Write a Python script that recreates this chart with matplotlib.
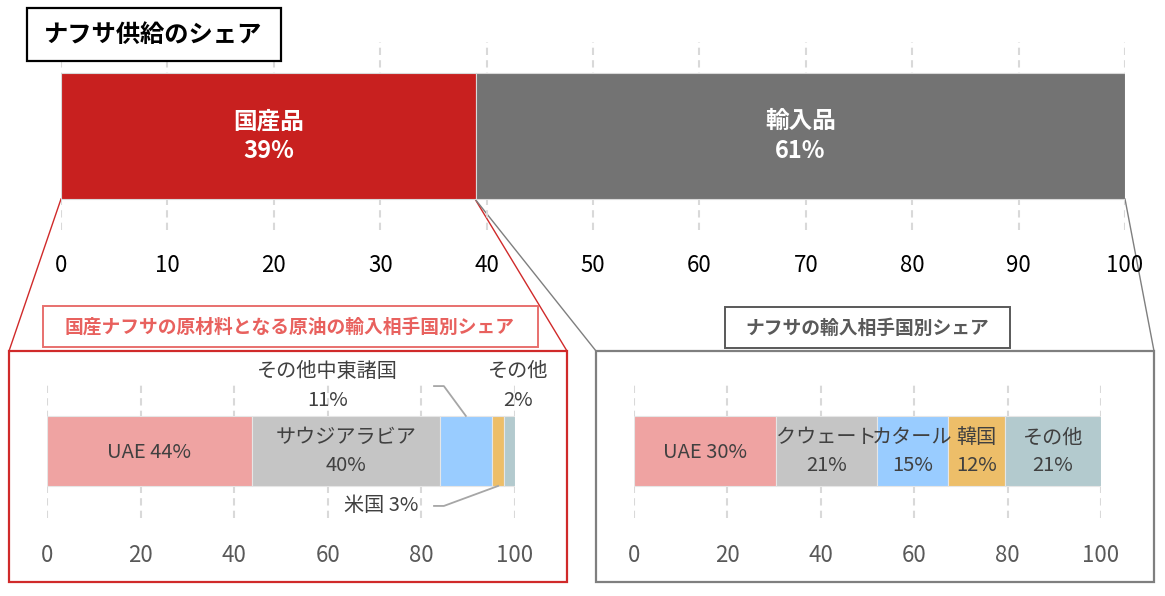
import matplotlib.pyplot as plt
from matplotlib.patches import Rectangle

plt.rcParams['font.family'] = ['Noto Sans CJK JP', 'DejaVu Sans']

# top: domestic vs imported naphtha
supply_labels = ['国産品', '輸入品']
supply_share = [39, 61]
supply_colors = ['#C8201F', '#737373']

# crude oil imports for domestic naphtha
crude_labels = ['UAE', 'サウジアラビア', 'その他中東諸国', '米国', 'その他']
crude_share = [43.8, 40.1, 11.2, 2.5, 2.4]
crude_pct = [44, 40, 11, 3, 2]

# naphtha imports
naphtha_labels = ['UAE', 'クウェート', 'カタール', '韓国', 'その他']
naphtha_share = [30.4, 21.6, 15.2, 12.2, 20.6]
naphtha_pct = [30, 21, 15, 12, 21]

seg_colors = ['#EFA3A2', '#C5C5C5', '#99CCFF', '#EDBE69', '#B3CACE']

W, H = 1165, 596
fig = plt.figure(figsize=(W / 100, H / 100), dpi=100)


def px_axes(x0, y0, x1, y1, z=1):
    return fig.add_axes([x0 / W, 1 - y1 / H, (x1 - x0) / W, (y1 - y0) / H], zorder=z)


def overlay(z):
    a = fig.add_axes([0, 0, 1, 1], zorder=z)
    a.set_xlim(0, W)
    a.set_ylim(H, 0)
    a.axis('off')
    return a


# frames and connectors underneath, title boxes on top
ov = overlay(0)
top = overlay(5)

red = '#D02A2A'
grey = '#7F7F7F'
ov.plot([61, 9], [199, 351], color=red, lw=1)
ov.plot([475, 567], [199, 351], color=red, lw=1)
ov.plot([475, 596], [199, 351], color=grey, lw=1)
ov.plot([1125, 1154], [199, 351], color=grey, lw=1)
ov.add_patch(Rectangle((9, 351), 558, 231, fill=False, ec=red, lw=1.6))
ov.add_patch(Rectangle((596, 351), 558, 231, fill=False, ec=grey, lw=1.6))

top.add_patch(Rectangle((27, 8), 254, 53, fc='white', ec='black', lw=1.6))
top.text(153, 35, 'ナフサ供給のシェア', ha='center', va='center', fontsize=17.5, fontweight='bold')
top.add_patch(Rectangle((43, 306), 495, 41, fc='white', ec='#E8706E', lw=1.4))
top.text(290, 327, '国産ナフサの原材料となる原油の輸入相手国別シェア', ha='center', va='center',
         fontsize=13.5, fontweight='bold', color='#E8615E')
top.add_patch(Rectangle((725, 307), 285, 41, fc='white', ec='#595959', lw=1.4))
top.text(867, 328, 'ナフサの輸入相手国別シェア', ha='center', va='center',
         fontsize=13.5, fontweight='bold', color='#595959')


def setup(ax, ticks, pad):
    ax.set_xlim(0, 100)
    ax.set_ylim(0, 1)
    for s in ax.spines.values():
        s.set_visible(False)
    ax.set_yticks([])
    ax.set_xticks(ticks)
    ax.tick_params(axis='x', length=0, pad=pad)
    ax.set_facecolor('none')
    for t in ticks:
        ax.axvline(t, color='#D9D9D9', lw=1.5, ls=(0, (3.5, 2.5)), zorder=0)


# top chart
ax = px_axes(61, 42, 1125, 230, z=2)
setup(ax, range(0, 101, 10), 17)
ax.tick_params(axis='x', labelsize=16, labelcolor='black')
left = 0
for lab, v, c in zip(supply_labels, supply_share, supply_colors):
    ax.barh(0.5, v, left=left, height=0.67, color=c, edgecolor='#D9D9D9', lw=0.8, zorder=2)
    ax.text(left + v / 2, 0.5, f'{lab}\n{v}%', ha='center', va='center', color='white',
            fontsize=17, fontweight='bold', linespacing=1.3, zorder=3)
    left += v

# bottom-left chart
ax = px_axes(47, 381, 515, 518, z=2)
setup(ax, range(0, 101, 20), 19)
ax.tick_params(axis='x', labelsize=16, labelcolor='#595959')
fs = 14.5
left = 0
for i, (lab, v, p) in enumerate(zip(crude_labels, crude_share, crude_pct)):
    ax.barh(0.49, v, left=left, height=0.51, color=seg_colors[i], edgecolor='#E6E6E6', lw=0.8, zorder=2)
    mid = left + v / 2
    if i == 0:
        ax.text(mid, 0.48, f'{lab} {p}%', ha='center', va='center', fontsize=fs, color='#404040', zorder=3)
    elif i == 1:
        ax.text(mid, 0.59, lab, ha='center', va='center', fontsize=fs, color='#404040', zorder=3)
        ax.text(mid, 0.385, f'{p}%', ha='center', va='center', fontsize=fs, color='#404040', zorder=3)
    left += v

tx = [60.0, 100.7]
for lab, p, x in zip([crude_labels[2], crude_labels[4]], [crude_pct[2], crude_pct[4]], tx):
    ax.text(x, 1.07, lab, ha='center', va='center', fontsize=fs, color='#404040', clip_on=False)
    ax.text(x, 0.86, f'{p}%', ha='center', va='center', fontsize=fs, color='#404040', clip_on=False)
ax.text(71.4, 0.09, f'{crude_labels[3]} {crude_pct[3]}%', ha='center', va='center', fontsize=fs,
        color='#404040', clip_on=False)
ax.plot([82.7, 84.8, 89.5], [0.963, 0.963, 0.745], color='#A6A6A6', lw=1.3, clip_on=False, zorder=3)
ax.plot([82.7, 84.8, 96.4], [0.088, 0.088, 0.234], color='#A6A6A6', lw=1.3, clip_on=False, zorder=3)

# bottom-right chart
ax = px_axes(634, 381, 1101, 518, z=2)
setup(ax, range(0, 101, 20), 19)
ax.tick_params(axis='x', labelsize=16, labelcolor='#595959')
left = 0
for i, (lab, v, p) in enumerate(zip(naphtha_labels, naphtha_share, naphtha_pct)):
    ax.barh(0.49, v, left=left, height=0.51, color=seg_colors[i], edgecolor='#E6E6E6', lw=0.8, zorder=2)
    mid = left + v / 2
    if i == 0:
        ax.text(mid, 0.48, f'{lab} {p}%', ha='center', va='center', fontsize=fs, color='#404040', zorder=3)
    else:
        ax.text(mid, 0.585, lab, ha='center', va='center', fontsize=fs, color='#404040', zorder=3)
        ax.text(mid, 0.38, f'{p}%', ha='center', va='center', fontsize=fs, color='#404040', zorder=3)
    left += v

fig.savefig('out.png', dpi=100)
